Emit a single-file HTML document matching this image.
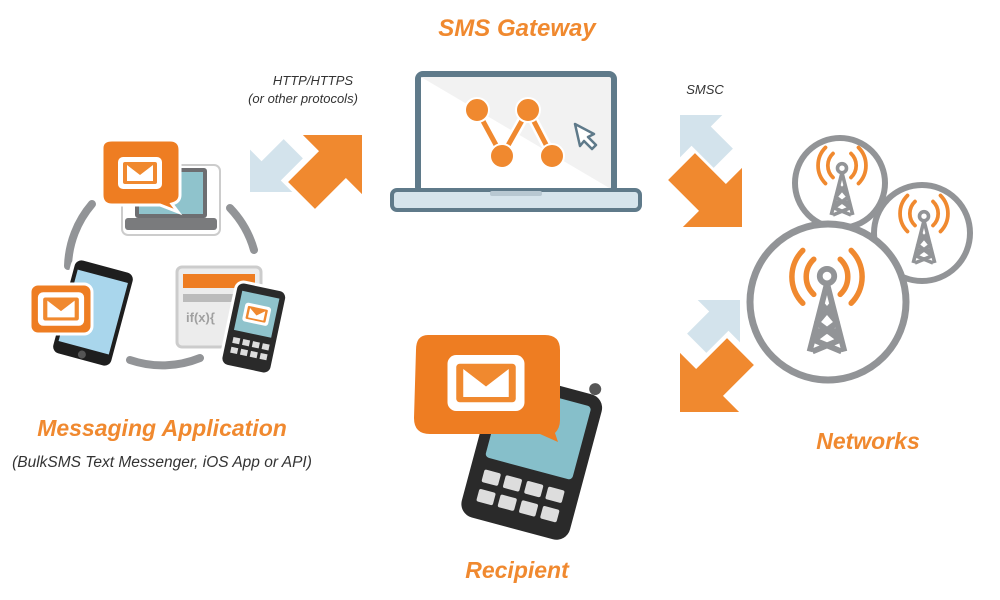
<!DOCTYPE html>
<html><head><meta charset="utf-8"><style>
html,body{margin:0;padding:0;background:#fff;}
svg{display:block}
text{font-family:"Liberation Sans",sans-serif;font-style:italic}
.t{fill:#f0892f;font-weight:bold;font-size:23px}
.s{fill:#333;font-size:13px}
</style></head><body>
<svg width="1000" height="600" viewBox="0 0 1000 600" xmlns="http://www.w3.org/2000/svg">
<defs>
<path id="ar" d="M0,0 L-44,-44 L-44,-20 L-90,-20 L-90,20 L-44,20 L-44,44 Z"/>
<g id="tower" fill="none" stroke="#929497" stroke-width="4" stroke-linejoin="round">
  <circle cx="0" cy="-22" r="5"/>
  <path d="M0,-17 L-12,30 M0,-17 L12,30 M-4,-3 L7,10 L-9,22 L10,30 M4,-3 L-7,10 L9,22 L-10,30 M-9,16 L9,16"/>
</g>
<g id="waves" fill="none" stroke="#f0892f" stroke-width="5" stroke-linecap="round">
  <path d="M-12,-38 A22,22 0 0 0 -12,-6 M12,-38 A22,22 0 0 1 12,-6 M-22,-46 A34,34 0 0 0 -22,2 M22,-46 A34,34 0 0 1 22,2"/>
</g>
<g id="env"><rect x="-22" y="-16" width="44" height="32" rx="5" fill="#fff"/><rect x="-17" y="-11" width="34" height="22" rx="2" fill="#f0892f"/><path d="M-13,-8 L0,2 L13,-8 L13,8 L-13,8 Z" fill="#fff"/></g>
</defs>

<!-- texts -->
<text class="t" x="517" y="36" text-anchor="middle" style="font-size:24px">SMS Gateway</text>
<text class="s" x="313" y="85" text-anchor="middle">HTTP/HTTPS</text>
<text class="s" x="303" y="103" text-anchor="middle">(or other protocols)</text>
<text class="s" x="705" y="94" text-anchor="middle">SMSC</text>
<text class="t" x="162" y="436" text-anchor="middle">Messaging Application</text>
<text class="s" x="162" y="467" text-anchor="middle" style="font-size:15.5px">(BulkSMS Text Messenger, iOS App or API)</text>
<text class="t" x="868" y="449" text-anchor="middle">Networks</text>
<text class="t" x="517" y="578" text-anchor="middle">Recipient</text>

<!-- arrows -->
<use href="#ar" fill="#f0892f" transform="translate(362,135) rotate(-45) scale(0.95)"/>
<use href="#ar" fill="#d3e3ec" transform="translate(250,192) rotate(135) scale(0.68)"/>
<use href="#ar" fill="#d3e3ec" transform="translate(680,115) rotate(-135) scale(0.68)"/>
<use href="#ar" fill="#f0892f" transform="translate(742,227) rotate(45) scale(0.95)"/>
<use href="#ar" fill="#d3e3ec" transform="translate(740,300) rotate(-45) scale(0.68)"/>
<use href="#ar" fill="#f0892f" transform="translate(680,412) rotate(135) scale(0.95)"/>

<!-- laptop -->
<rect x="418" y="74" width="196" height="118" rx="5" fill="#f2f2f2" stroke="#5f7a8a" stroke-width="6"/>
<polygon points="421,77 611,189 421,189" fill="#fff"/>
<rect x="392" y="190" width="248" height="20" rx="5" fill="#d6e4ec" stroke="#5f7a8a" stroke-width="4"/>
<rect x="490" y="191" width="52" height="5" rx="2" fill="#b8c8d2"/>
<g stroke="#fff" stroke-width="10" fill="none"><path d="M477,110 L502,156 L528,110 L552,156"/></g>
<g stroke="#f0892f" stroke-width="5" fill="none"><path d="M477,110 L502,156 L528,110 L552,156"/></g>
<g fill="#f0892f" stroke="#fff" stroke-width="2"><circle cx="477" cy="110" r="12"/><circle cx="528" cy="110" r="12"/><circle cx="502" cy="156" r="12"/><circle cx="552" cy="156" r="12"/></g>
<path d="M575,124 L594,134 L588,137 L596,145 L592,149 L584,141 L580,146 Z" fill="#fff" stroke="#5f7a8a" stroke-width="2.5" stroke-linejoin="round"/>

<!-- left cycle -->
<g fill="none" stroke="#929497" stroke-width="8" stroke-linecap="round">
  <path d="M92,204 A100,100 0 0 0 68,266"/>
  <path d="M230,208 A100,100 0 0 1 254,250"/>
  <path d="M130,360 A100,100 0 0 0 200,358"/>
</g>
<!-- top laptop icon -->
<rect x="122" y="165" width="98" height="70" rx="6" fill="#fff" stroke="#ccc" stroke-width="2"/>
<rect x="135" y="168" width="72" height="50" rx="3" fill="#6d6e71"/>
<rect x="139" y="172" width="64" height="42" fill="#8fc3cc"/>
<rect x="125" y="218" width="92" height="12" rx="3" fill="#7a7b7d"/>
<path d="M102,148 Q102,140 112,140 L170,140 Q180,140 180,150 L180,195 Q180,202 172,204 L178,212 L160,205 L112,205 Q102,205 102,195 Z" fill="#ee7d22" stroke="#fff" stroke-width="3"/>
<use href="#env" transform="translate(140,173)"/>
<!-- left phone -->
<g transform="translate(93,313) rotate(15)">
<rect x="-32" y="-50" width="64" height="100" rx="9" fill="#1e1e1e" stroke="#fff" stroke-width="4"/>
<rect x="-26" y="-38" width="52" height="74" fill="#a9d6ec"/>
<circle cx="0" cy="43" r="4" fill="#555"/>
</g>
<rect x="30" y="284" width="62" height="50" rx="8" fill="#ee7d22" stroke="#fff" stroke-width="3"/>
<use href="#env" transform="translate(61,309) scale(1.05)"/>
<!-- API window + phone -->
<rect x="177" y="267" width="84" height="80" rx="5" fill="#ececec" stroke="#ccc" stroke-width="3"/>
<rect x="183" y="274" width="72" height="14" fill="#ee7d22"/>
<rect x="183" y="294" width="72" height="8" fill="#bbb"/>
<text x="186" y="322" style="font-style:normal;font-weight:bold;font-size:13px;fill:#a0a0a0">if(x){</text>
<g transform="translate(254,327) rotate(12)">
<rect x="-26" y="-42" width="52" height="86" rx="8" fill="#2a2a2a" stroke="#fff" stroke-width="3"/>
<rect x="-19" y="-33" width="38" height="40" fill="#8fc3cc"/>
<use href="#env" transform="translate(0,-13) scale(0.6)"/>
<g fill="#ddd"><rect x="-18" y="14" width="7" height="6"/><rect x="-8" y="14" width="7" height="6"/><rect x="2" y="14" width="7" height="6"/><rect x="12" y="14" width="7" height="6"/><rect x="-18" y="24" width="7" height="6"/><rect x="-8" y="24" width="7" height="6"/><rect x="2" y="24" width="7" height="6"/><rect x="12" y="24" width="7" height="6"/></g>
</g>

<!-- recipient -->
<g transform="translate(532,455) rotate(15)">
<circle cx="44" cy="-80" r="6" fill="#555"/>
<rect x="-56" y="-74" width="112" height="150" rx="14" fill="#2a2a2a"/>
<rect x="-45" y="-62" width="90" height="76" rx="4" fill="#86bfca"/>
<g fill="#ddd"><rect x="-42" y="26" width="17" height="13" rx="2"/><rect x="-20" y="26" width="17" height="13" rx="2"/><rect x="2" y="26" width="17" height="13" rx="2"/><rect x="24" y="26" width="17" height="13" rx="2"/><rect x="-42" y="46" width="17" height="13" rx="2"/><rect x="-20" y="46" width="17" height="13" rx="2"/><rect x="2" y="46" width="17" height="13" rx="2"/><rect x="24" y="46" width="17" height="13" rx="2"/></g>
</g>
<path d="M428,335 L545,335 Q560,335 560,350 L560,420 Q560,428 555,433 L558,442 L540,434 L430,434 Q414,434 414,418 L416,350 Q416,335 428,335 Z" fill="#ee7d22"/>
<use href="#env" transform="translate(486,383) scale(1.75)"/>

<!-- networks -->
<circle cx="840" cy="183" r="45" fill="#fff" stroke="#929497" stroke-width="6"/>
<circle cx="922" cy="233" r="48" fill="#fff" stroke="#929497" stroke-width="6"/>
<circle cx="828" cy="302" r="78" fill="#fff" stroke="#929497" stroke-width="7"/>
<use href="#waves" transform="translate(842,182) scale(0.75)"/>
<use href="#tower" transform="translate(842,188) scale(0.9)"/>
<use href="#waves" transform="translate(924,230) scale(0.75)"/>
<use href="#tower" transform="translate(924,236) scale(0.9)"/>
<use href="#waves" transform="translate(827,301) scale(1.1)"/>
<use href="#tower" transform="translate(827,308) scale(1.45)"/>
</svg>
</body></html>
